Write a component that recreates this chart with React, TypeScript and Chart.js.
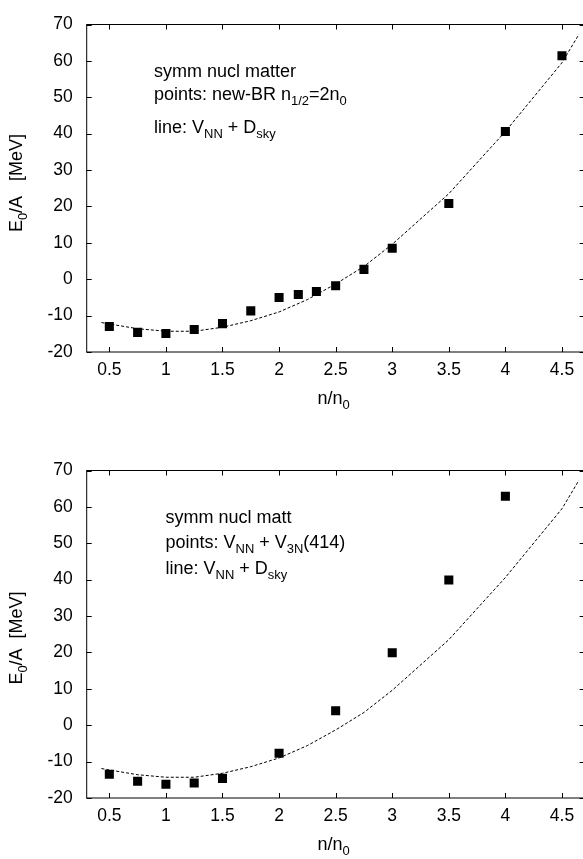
import React, { useEffect, useRef } from "react";
import { Chart, registerables } from "chart.js";

Chart.register(...registerables);

// ---------- data ----------
const xTickValues = [0.5, 1, 1.5, 2, 2.5, 3, 3.5, 4, 4.5];
const yTickValues = [-20, -10, 0, 10, 20, 30, 40, 50, 60, 70];

// top panel: new-BR points
const densityTop = [0.5, 0.75, 1.0, 1.25, 1.5, 1.75, 2.0, 2.17, 2.33, 2.5, 2.75, 3.0, 3.5, 4.0, 4.5];
const energyTop = [-13.0, -14.6, -14.9, -13.8, -12.2, -8.7, -5.0, -4.2, -3.4, -1.8, 2.7, 8.5, 20.8, 40.6, 61.4];

// bottom panel: V_NN + V_3N(414) points
const densityBottom = [0.5, 0.75, 1.0, 1.25, 1.5, 2.0, 2.5, 3.0, 3.5, 4.0];
const energyBottom = [-13.5, -15.4, -16.2, -15.9, -14.6, -7.7, 4.0, 19.9, 39.9, 62.9];

// line: V_NN + D_sky (same in both panels)
const lineDensity = [0.43, 0.5, 0.75, 1.0, 1.25, 1.5, 1.75, 2.0, 2.25, 2.5, 2.75, 3.0, 3.5, 4.0, 4.5, 4.65];
const lineEnergy = [-11.9, -12.3, -13.6, -14.3, -14.3, -13.2, -11.4, -9.0, -5.6, -1.3, 3.5, 9.6, 23.5, 40.6, 59.5, 67.3];

const FAMILY = '"Liberation Sans", Arial, Helvetica, sans-serif';

type Seg = { t: string; sub?: boolean };

function drawRich(ctx: CanvasRenderingContext2D, segs: Seg[], x: number, y: number, size: number, align: "left" | "center") {
  const subSize = size * 0.72;
  let total = 0;
  for (const s of segs) {
    ctx.font = `${s.sub ? subSize : size}px ${FAMILY}`;
    total += ctx.measureText(s.t).width;
  }
  let cx = align === "center" ? x - total / 2 : x;
  ctx.textAlign = "left";
  ctx.textBaseline = "alphabetic";
  for (const s of segs) {
    ctx.font = `${s.sub ? subSize : size}px ${FAMILY}`;
    ctx.fillText(s.t, cx, s.sub ? y + size * 0.3 : y);
    cx += ctx.measureText(s.t).width;
  }
}

type PanelText = {
  lines: { segs: Seg[]; x: number; y: number }[];
  yTitle: Seg[];
  yTitleCenter: number;
};

function makeFramePlugin(text: PanelText) {
  return {
    id: "frame",
    beforeDatasetsDraw(chart: any) {
      const ctx: CanvasRenderingContext2D = chart.ctx;
      const { left, right, top, bottom } = chart.chartArea;
      const xs = chart.scales.x;
      const ys = chart.scales.y;
      ctx.save();
      ctx.strokeStyle = "#000";
      ctx.lineWidth = 1;
      ctx.strokeRect(left, top, right - left, bottom - top);
      const tl = 5;
      ctx.beginPath();
      for (const v of xTickValues) {
        const px = Math.round(xs.getPixelForValue(v)) + 0.5;
        ctx.moveTo(px, bottom);
        ctx.lineTo(px, bottom - tl);
        ctx.moveTo(px, top);
        ctx.lineTo(px, top + tl);
      }
      for (const v of yTickValues) {
        const py = Math.round(ys.getPixelForValue(v)) + 0.5;
        ctx.moveTo(left, py);
        ctx.lineTo(left + tl, py);
        ctx.moveTo(right, py);
        ctx.lineTo(right - tl, py);
      }
      ctx.stroke();
      ctx.restore();
    },
    afterDraw(chart: any) {
      const ctx: CanvasRenderingContext2D = chart.ctx;
      const { left, right } = chart.chartArea;
      ctx.save();
      ctx.fillStyle = "#000";
      for (const l of text.lines) drawRich(ctx, l.segs, l.x, l.y, 18, "left");
      // x title
      drawRich(ctx, [{ t: "n/n" }, { t: "0", sub: true }], (left + right) / 2 - 2, 404, 18, "center");
      // y title
      ctx.translate(22, text.yTitleCenter);
      ctx.rotate(-Math.PI / 2);
      drawRich(ctx, text.yTitle, 0, 0, 18, "center");
      ctx.restore();
    },
  };
}

function Panel(props: {
  pts: { x: number; y: number }[];
  height: number;
  top: number;
  plotTop: number;
  text: PanelText;
}) {
  const ref = useRef<HTMLCanvasElement>(null);
  useEffect(() => {
    const canvas = ref.current!;
    const W = 600;
    const plotLeft = 86.7;
    const plotRight = 584.6;
    const plotBottom = 352;
    const lineData = lineDensity.map((x, i) => ({ x, y: lineEnergy[i] }));
    const chart = new Chart(canvas, {
      type: "scatter",
      data: {
        datasets: [
          {
            label: "line",
            data: lineData,
            showLine: true,
            borderColor: "#000",
            borderWidth: 1,
            borderDash: [3, 2],
            pointRadius: 0,
            fill: false,
            tension: 0,
          },
          {
            label: "points",
            data: props.pts,
            showLine: false,
            pointStyle: "rect",
            pointRadius: 6.4,
            pointBorderWidth: 0,
            backgroundColor: "#000",
            borderColor: "#000",
          },
        ],
      },
      options: {
        responsive: false,
        animation: false,
        devicePixelRatio: 1,
        layout: {
          padding: { top: props.plotTop, right: W - plotRight, left: 0, bottom: 0 },
        },
        plugins: {
          legend: { display: false },
          tooltip: { enabled: false },
        },
        scales: {
          x: {
            type: "linear",
            min: 0.3,
            max: 4.7,
            grid: { display: false, drawTicks: false },
            border: { display: false },
            afterFit: (s: any) => {
              s.height = props.height - plotBottom;
            },
            afterBuildTicks: (s: any) => {
              s.ticks = xTickValues.map((v) => ({ value: v }));
            },
            ticks: {
              color: "#000",
              padding: 8,
              maxRotation: 0,
              autoSkip: false,
              font: { family: FAMILY, size: 17.5 },
              callback: (v: any) => String(v),
            },
          },
          y: {
            type: "linear",
            min: -20,
            max: 70,
            grid: { display: false, drawTicks: false },
            border: { display: false },
            afterFit: (s: any) => {
              s.width = plotLeft;
            },
            afterBuildTicks: (s: any) => {
              s.ticks = yTickValues.map((v) => ({ value: v }));
            },
            ticks: {
              color: "#000",
              padding: 14,
              autoSkip: false,
              font: { family: FAMILY, size: 17.5 },
              callback: (v: any) => String(v),
            },
          },
        },
      },
      plugins: [makeFramePlugin(props.text)],
    } as any);
    return () => chart.destroy();
  }, []);
  return (
    <canvas
      ref={ref}
      width={600}
      height={props.height}
      style={{ position: "absolute", left: 0, top: props.top, width: 600, height: props.height }}
    />
  );
}

const topText: PanelText = {
  lines: [
    { segs: [{ t: "symm nucl matter" }], x: 154, y: 77 },
    {
      segs: [{ t: "points: new-BR n" }, { t: "1/2", sub: true }, { t: "=2n" }, { t: "0", sub: true }],
      x: 154,
      y: 100,
    },
    {
      segs: [{ t: "line: V" }, { t: "NN", sub: true }, { t: " + D" }, { t: "sky", sub: true }],
      x: 154,
      y: 133,
    },
  ],
  yTitle: [{ t: "E" }, { t: "0", sub: true }, { t: "/A   [MeV]" }],
  yTitleCenter: 183,
};

const bottomText: PanelText = {
  lines: [
    { segs: [{ t: "symm nucl matt" }], x: 165.5, y: 77 },
    {
      segs: [{ t: "points: V" }, { t: "NN", sub: true }, { t: " + V" }, { t: "3N", sub: true }, { t: "(414)" }],
      x: 165.5,
      y: 102,
    },
    {
      segs: [{ t: "line: V" }, { t: "NN", sub: true }, { t: " + D" }, { t: "sky", sub: true }],
      x: 165.5,
      y: 128,
    },
  ],
  yTitle: [{ t: "E" }, { t: "0", sub: true }, { t: "/A  [MeV]" }],
  yTitleCenter: 192,
};

export default function App() {
  const ptsTop = densityTop.map((x, i) => ({ x, y: energyTop[i] }));
  const ptsBottom = densityBottom.map((x, i) => ({ x, y: energyBottom[i] }));
  return (
    <div
      style={{
        position: "absolute",
        left: 0,
        top: 0,
        width: 583,
        height: 859,
        overflow: "hidden",
        background: "#fff",
      }}
    >
      <Panel pts={ptsTop} height={446} top={0} plotTop={12.7} text={topText} />
      <Panel pts={ptsBottom} height={413} top={446} plotTop={13.3} text={bottomText} />
    </div>
  );
}
